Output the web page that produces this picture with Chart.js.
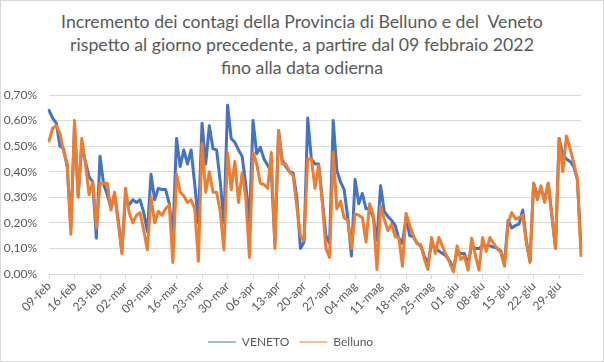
<!DOCTYPE html>
<html lang="it">
<head>
<meta charset="UTF-8">
<title>Incremento contagi Belluno e Veneto</title>
<script src="https://cdn.jsdelivr.net/npm/chart.js@4.4.1/dist/chart.umd.min.js"></script>
<style>
  body { margin: 0; background: #fff; }
  .box {
    position: relative;
    width: 604px;
    height: 362px;
    box-sizing: border-box;
    border: 1px solid #d9d9d9;
  }
  .title {
    position: absolute;
    left: -1px;
    top: 9px;
    width: 604px;
    text-align: center;
    font-family: Lato, Calibri, sans-serif;
    font-size: 17.7px;
    line-height: 23px;
    color: #595959;
    white-space: pre;
  }
  #chart { position: absolute; left: -1px; top: -1px; }
</style>
</head>
<body>
<div class="box">
  <div class="title">Incremento dei contagi della Provincia di Belluno e del  Veneto
rispetto al giorno precedente, a partire dal 09 febbraio 2022
fino alla data odierna</div>
  <canvas id="chart" width="604" height="362"></canvas>
</div>

<script>
// first day of the series, one value per day (in %)
const START_DATE = new Date(2022, 1, 9);
const MONTHS = ['gen', 'feb', 'mar', 'apr', 'mag', 'giu', 'lug', 'ago', 'set', 'ott', 'nov', 'dic'];
const Y_TICKS = [0, 0.1, 0.2, 0.3, 0.4, 0.5, 0.6, 0.7];

const veneto = [
  0.64, 0.61, 0.59, 0.50, 0.49, 0.42, 0.18, 0.58, 0.31, 0.50,
  0.44, 0.38, 0.36, 0.14, 0.46, 0.35, 0.31, 0.26, 0.31, 0.21,
  0.09, 0.30, 0.27, 0.29, 0.28, 0.29, 0.24, 0.165, 0.39, 0.29,
  0.335, 0.33, 0.33, 0.275, 0.15, 0.53, 0.42, 0.485, 0.43, 0.485,
  0.35, 0.20, 0.59, 0.43, 0.58, 0.49, 0.485, 0.36, 0.20, 0.66,
  0.53, 0.515, 0.485, 0.46, 0.35, 0.20, 0.60, 0.47, 0.495, 0.45,
  0.425, 0.40, 0.12, 0.56, 0.445, 0.42, 0.40, 0.395, 0.30, 0.10,
  0.125, 0.61, 0.45, 0.43, 0.43, 0.29, 0.15, 0.12, 0.60, 0.405,
  0.36, 0.33, 0.22, 0.07, 0.37, 0.275, 0.315, 0.255, 0.255, 0.22,
  0.13, 0.345, 0.245, 0.225, 0.21, 0.19, 0.14, 0.12, 0.22, 0.15,
  0.145, 0.12, 0.11, 0.07, 0.04, 0.12, 0.10, 0.09, 0.08, 0.07,
  0.05, 0.02, 0.09, 0.08, 0.08, 0.04, 0.11, 0.10, 0.10, 0.11,
  0.11, 0.11, 0.105, 0.10, 0.09, 0.04, 0.21, 0.18, 0.19, 0.195,
  0.25, 0.13, 0.05, 0.355, 0.305, 0.335, 0.29, 0.355, 0.23, 0.10,
  0.53, 0.465, 0.45, 0.44, 0.42, 0.37, 0.10
];

const belluno = [
  0.52, 0.57, 0.58, 0.55, 0.48, 0.43, 0.155, 0.60, 0.30, 0.53,
  0.43, 0.31, 0.36, 0.18, 0.355, 0.355, 0.355, 0.25, 0.32, 0.20,
  0.08, 0.335, 0.24, 0.20, 0.23, 0.24, 0.17, 0.095, 0.30, 0.20,
  0.245, 0.23, 0.255, 0.27, 0.045, 0.39, 0.32, 0.305, 0.28, 0.29,
  0.255, 0.05, 0.51, 0.32, 0.40, 0.32, 0.32, 0.245, 0.095, 0.475,
  0.33, 0.44, 0.28, 0.395, 0.30, 0.065, 0.475, 0.43, 0.355, 0.35,
  0.335, 0.475, 0.10, 0.56, 0.43, 0.43, 0.40, 0.385, 0.265, 0.15,
  0.13, 0.45, 0.45, 0.335, 0.425, 0.28, 0.10, 0.065, 0.475, 0.255,
  0.285, 0.22, 0.21, 0.10, 0.235, 0.23, 0.22, 0.125, 0.275, 0.23,
  0.018, 0.265, 0.215, 0.17, 0.195, 0.145, 0.145, 0.03, 0.237, 0.19,
  0.15, 0.12, 0.115, 0.06, 0.018, 0.143, 0.08, 0.143, 0.107, 0.075,
  0.043, 0.008, 0.11, 0.056, 0.07, 0.015, 0.14, 0.075, 0.015, 0.143,
  0.088, 0.143, 0.12, 0.10, 0.085, 0.03, 0.20, 0.24, 0.215, 0.22,
  0.23, 0.125, 0.045, 0.355, 0.29, 0.345, 0.28, 0.355, 0.23, 0.10,
  0.53, 0.40, 0.54, 0.49, 0.435, 0.37, 0.072
];

// one category per day: dd-mmm
const labels = veneto.map((_, i) => {
  const d = new Date(START_DATE.getFullYear(), START_DATE.getMonth(), START_DATE.getDate() + i);
  return String(d.getDate()).padStart(2, '0') + '-' + MONTHS[d.getMonth()];
});

const TEXT = '#595959';
const GRID = '#d9d9d9';
const FONT = { family: 'Lato, Calibri, sans-serif', size: 12 };

new Chart(document.getElementById('chart'), {
  type: 'line',
  data: {
    labels: labels,
    datasets: [
      {
        label: 'VENETO',
        data: veneto,
        borderColor: '#4472C4',
        backgroundColor: '#4472C4',
        order: 2
      },
      {
        label: 'Belluno',
        data: belluno,
        borderColor: '#ED7D31',
        backgroundColor: '#ED7D31',
        order: 1
      }
    ]
  },
  options: {
    responsive: false,
    animation: false,
    elements: {
      line: { borderWidth: 3, tension: 0, borderJoinStyle: 'round', borderCapStyle: 'round', fill: false },
      point: { radius: 0, hoverRadius: 0 }
    },
    layout: { padding: { top: 95, right: 23, bottom: 4, left: 0 } },
    scales: {
      x: {
        offset: false,
        border: { color: GRID },
        grid: {
          drawOnChartArea: false,
          drawTicks: true,
          tickLength: 5,
          color: (ctx) => (ctx.index % 7 === 0 ? GRID : 'rgba(0,0,0,0)')
        },
        ticks: {
          autoSkip: false,
          maxRotation: 45,
          minRotation: 45,
          padding: 0,
          color: TEXT,
          font: FONT,
          callback: function (value, index) {
            return index % 7 === 0 ? labels[index] : '';
          }
        },
        afterFit: (scale) => { scale.height = 52; }
      },
      y: {
        min: 0,
        max: 0.7,
        border: { display: false },
        grid: { color: GRID, drawTicks: false },
        afterBuildTicks: (scale) => { scale.ticks = Y_TICKS.map(v => ({ value: v })); },
        ticks: {
          padding: 12,
          color: TEXT,
          font: FONT,
          callback: (v) => v.toFixed(2).replace('.', ',') + '%'
        },
        afterFit: (scale) => { scale.width = 49; }
      }
    },
    plugins: {
      title: { display: false },
      tooltip: { enabled: false },
      legend: {
        position: 'bottom',
        labels: {
          usePointStyle: true,
          pointStyle: 'line',
          pointStyleWidth: 28,
          padding: 10,
          color: TEXT,
          font: FONT,
          sort: (a, b) => a.datasetIndex - b.datasetIndex
        }
      }
    }
  }
});
</script>
</body>
</html>
